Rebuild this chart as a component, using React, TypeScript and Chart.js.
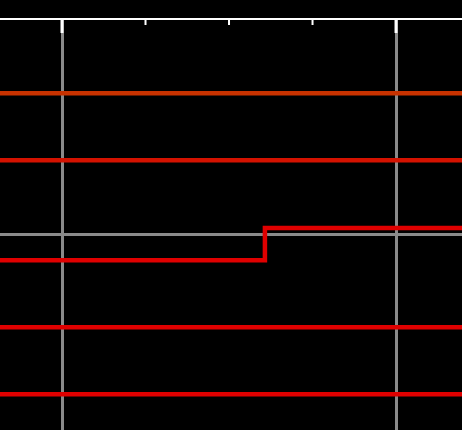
import React, { useEffect, useRef } from "react";
import { Chart, registerables } from "chart.js";

Chart.register(...registerables);

// x-axis: major ticks at 0 and 4, minor ticks each 1 unit
const majorTicks = [0, 4];
const minorTicks = [1, 2, 3];
const xRange = [-0.7425, 4.79];
const yRange = [-2.925, 3.209];
const yGridValues = [0];

// five signal traces (x breakpoints and values)
const traceX = [-1, 2.43, 5.5];
const trace1 = [2.1, 2.1, 2.1];
const trace2 = [1.1, 1.1, 1.1];
const trace3 = [-0.39, 0.09, 0.09];
const trace4 = [-1.39, -1.39, -1.39];
const trace5 = [-2.39, -2.39, -2.39];
const traceColors = ["#c83200", "#d41200", "#e00000", "#e00000", "#e00000"];

const tickPlugin = {
  id: "innerTicks",
  afterDraw(chart: any) {
    const ctx = chart.ctx;
    const xs = chart.scales.x;
    const top = chart.chartArea.top;
    ctx.save();
    ctx.fillStyle = "#ffffff";
    majorTicks.forEach((v) => {
      const px = xs.getPixelForValue(v);
      ctx.fillRect(px - 1.5, top, 3, 14);
    });
    minorTicks.forEach((v) => {
      const px = xs.getPixelForValue(v);
      ctx.fillRect(px - 1, top, 2, 6);
    });
    ctx.restore();
  },
};

export default function App() {
  const ref = useRef<HTMLCanvasElement>(null);
  useEffect(() => {
    document.body.style.margin = "0";
    document.body.style.background = "#000";
    const traces = [trace1, trace2, trace3, trace4, trace5];
    const chart = new Chart(ref.current!, {
      type: "line",
      data: {
        datasets: traces.map((t, i) => ({
          data: traceX.map((x, j) => ({ x, y: t[j] })),
          borderColor: traceColors[i],
          borderWidth: 4.5,
          pointRadius: 0,
          stepped: true,
          fill: false,
        })),
      },
      options: {
        animation: false,
        responsive: false,
        layout: { padding: { top: 19, left: 0, right: 0, bottom: 0 } },
        plugins: { legend: { display: false }, tooltip: { enabled: false } },
        scales: {
          x: {
            type: "linear",
            position: "top",
            min: xRange[0],
            max: xRange[1],
            z: 1,
            afterBuildTicks: (s: any) => {
              s.ticks = majorTicks.map((v) => ({ value: v }));
            },
            ticks: { display: false },
            border: { display: true, color: "#ffffff", width: 2 },
            grid: {
              drawTicks: false,
              lineWidth: 3,
              color: "#8a8a8a",
            },
          },
          y: {
            type: "linear",
            min: yRange[0],
            max: yRange[1],
            z: 1,
            afterBuildTicks: (s: any) => {
              s.ticks = yGridValues.map((v) => ({ value: v }));
            },
            ticks: { display: false },
            border: { display: false },
            grid: {
              drawTicks: false,
              lineWidth: 3,
              color: "#8a8a8a",
            },
          },
        },
      },
      plugins: [tickPlugin],
    });
    return () => chart.destroy();
  }, []);
  return (
    <div style={{ position: "fixed", left: 0, top: 0, width: 462, height: 430, background: "#000" }}>
      <canvas ref={ref} width={462} height={430} style={{ display: "block" }} />
    </div>
  );
}
